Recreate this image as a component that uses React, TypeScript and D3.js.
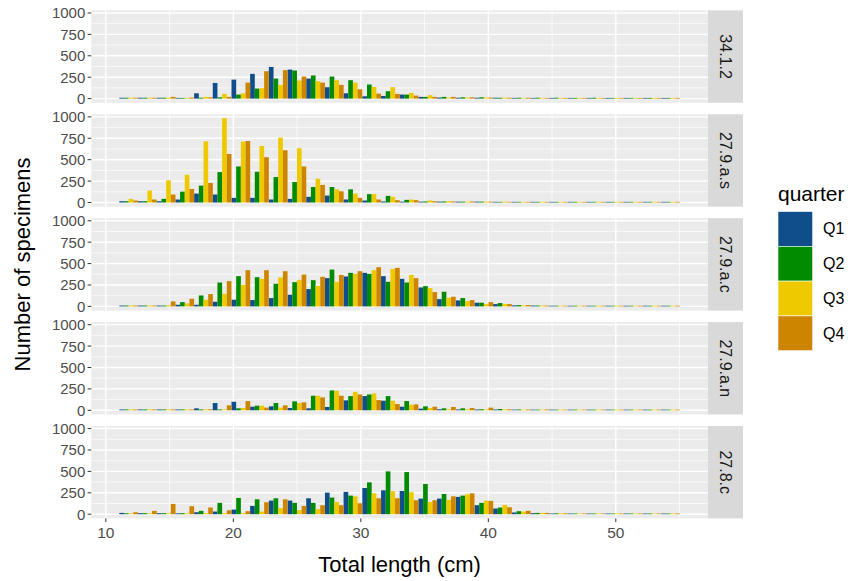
import React from 'react';
import * as d3 from 'd3';

// histogram bins (30 bins of the total length, cm)
const binMids = [11.79, 13.26, 14.73, 16.19, 17.66, 19.12, 20.59, 22.05, 23.52, 24.99,
  26.45, 27.92, 29.38, 30.85, 32.32, 33.78, 35.25, 36.71, 38.18, 39.65,
  41.11, 42.58, 44.04, 45.51, 46.98, 48.44, 49.91, 51.37, 52.84, 54.3];
const binWidth = 1.466;

const quarters = ['Q1', 'Q2', 'Q3', 'Q4'];
const quarterColors = ['#104E8B', '#008B00', '#EEC900', '#CD8500'];
const areas = ['34.1.2', '27.9.a.s', '27.9.a.c', '27.9.a.n', '27.8.c'];
const xTicks = [10, 20, 30, 40, 50];
const xMinor = [15, 25, 35, 45, 55];
const yTicks = [0, 250, 500, 750, 1000];
const yMinor = [125, 375, 625, 875];

// 34.1.2
const q1_3412 = [10, 10, 10, 8, 62, 183, 222, 289, 370, 339, 234, 133, 62, 27, 31, 47, 20, 12, 10, 10, 10, 8, 8, 8, 8, 8, 8, 8, 8, 8];
const q2_3412 = [10, 10, 10, 8, 10, 15, 47, 117, 234, 328, 270, 257, 215, 164, 86, 47, 20, 20, 15, 15, 10, 10, 10, 10, 8, 10, 8, 8, 8, 8];
const q3_3412 = [10, 10, 10, 8, 20, 55, 62, 121, 160, 211, 203, 215, 187, 137, 133, 66, 39, 12, 12, 12, 10, 8, 8, 8, 8, 8, 8, 8, 8, 8];
const q4_3412 = [10, 10, 20, 12, 15, 20, 187, 320, 332, 257, 187, 160, 109, 58, 55, 35, 20, 20, 15, 12, 10, 10, 8, 8, 8, 8, 8, 8, 8, 8];
// 27.9.a.s
const q1_279as = [15, 15, 15, 35, 104, 93, 54, 54, 35, 42, 66, 81, 35, 23, 12, 10, 10, 10, 10, 10, 8, 8, 8, 8, 8, 8, 8, 8, 8, 8];
const q2_279as = [15, 15, 42, 127, 197, 355, 421, 359, 297, 239, 181, 181, 154, 97, 77, 31, 12, 12, 10, 10, 8, 8, 8, 8, 8, 8, 8, 8, 8, 8];
const q3_279as = [42, 139, 259, 324, 714, 985, 710, 660, 757, 633, 278, 154, 104, 97, 66, 35, 23, 15, 10, 10, 10, 8, 8, 8, 8, 8, 8, 8, 8, 8];
const q4_279as = [23, 35, 93, 158, 228, 567, 718, 529, 610, 421, 205, 131, 54, 35, 27, 27, 15, 12, 12, 10, 8, 8, 8, 8, 8, 8, 8, 8, 8, 8];
// 27.9.a.c
const q1_279ac = [10, 10, 10, 19, 19, 54, 78, 74, 97, 136, 202, 330, 349, 392, 353, 322, 221, 85, 70, 43, 27, 12, 10, 8, 8, 8, 8, 8, 8, 8];
const q2_279ac = [10, 10, 10, 50, 128, 279, 353, 341, 264, 283, 306, 430, 392, 380, 287, 279, 237, 171, 97, 43, 39, 15, 10, 8, 8, 8, 8, 8, 8, 8];
const q3_279ac = [10, 10, 12, 35, 78, 147, 252, 322, 338, 310, 240, 287, 380, 423, 438, 368, 213, 101, 62, 27, 27, 12, 10, 8, 8, 8, 8, 8, 8, 8];
const q4_279ac = [10, 10, 58, 89, 144, 295, 423, 423, 411, 372, 345, 368, 411, 458, 450, 330, 167, 113, 74, 50, 27, 15, 10, 8, 8, 8, 8, 8, 8, 8];
// 27.9.a.n
const q1_279an = [10, 10, 10, 10, 23, 85, 100, 42, 46, 27, 23, 39, 116, 166, 112, 42, 19, 12, 10, 10, 10, 8, 8, 8, 8, 8, 8, 8, 8, 8];
const q2_279an = [10, 10, 10, 10, 10, 10, 23, 54, 85, 104, 170, 232, 166, 185, 166, 108, 46, 23, 23, 12, 15, 10, 8, 8, 8, 8, 8, 8, 8, 8];
const q3_279an = [10, 10, 10, 10, 10, 10, 27, 54, 31, 85, 170, 228, 216, 197, 112, 66, 27, 12, 12, 10, 10, 8, 8, 8, 8, 8, 8, 8, 8, 8];
const q4_279an = [10, 10, 10, 10, 12, 58, 108, 31, 58, 93, 151, 170, 185, 120, 73, 69, 42, 39, 27, 31, 12, 10, 10, 8, 8, 8, 8, 8, 8, 8];
// 27.8.c
const q1_278c = [15, 12, 12, 10, 23, 31, 54, 97, 159, 159, 186, 252, 260, 306, 279, 271, 182, 182, 202, 105, 66, 20, 12, 8, 8, 8, 8, 8, 8, 8];
const q2_278c = [10, 12, 12, 12, 39, 132, 190, 174, 186, 132, 132, 194, 217, 372, 500, 492, 353, 236, 217, 132, 78, 35, 15, 10, 8, 8, 8, 8, 8, 8];
const q3_278c = [10, 10, 10, 10, 12, 12, 12, 31, 70, 46, 58, 143, 209, 244, 268, 256, 143, 167, 233, 159, 109, 30, 15, 10, 8, 8, 8, 8, 8, 8];
const q4_278c = [23, 39, 120, 93, 78, 46, 35, 140, 174, 97, 105, 105, 128, 186, 186, 163, 163, 209, 244, 155, 81, 40, 15, 10, 8, 8, 8, 8, 8, 8];

const panelSeries = [
  [q1_3412, q2_3412, q3_3412, q4_3412],
  [q1_279as, q2_279as, q3_279as, q4_279as],
  [q1_279ac, q2_279ac, q3_279ac, q4_279ac],
  [q1_279an, q2_279an, q3_279an, q4_279an],
  [q1_278c, q2_278c, q3_278c, q4_278c],
];

const W = 858;
const H = 581;
const pLeft = 91.3;
const pRight = 708;
const pTop = 10.4;
const pH = 92.4;
const pStep = 103.9;
const stripW = 35;
const FONT = "'Liberation Sans', Arial, sans-serif";

export default function App() {
  const x = d3.scaleLinear().domain([8.86, 57.23]).range([pLeft, pRight]);
  const y = d3.scaleLinear().domain([-49, 1030]).range([pH, 0]);
  const bottom = pTop + 4 * pStep + pH;
  const midY = (pTop + bottom) / 2;

  return (
    <svg width={W} height={H} style={{ position: 'absolute', left: 0, top: 0, background: '#fff' }}
      fontFamily={FONT}>
      <rect x={0} y={0} width={W} height={H} fill="#ffffff" />
      {areas.map((area, p) => {
        const top = pTop + p * pStep;
        return (
          <g key={area} transform={`translate(0,${top})`}>
            <rect x={pLeft} y={0} width={pRight - pLeft} height={pH} fill="#EBEBEB" />
            {yMinor.map((t) => (
              <line key={'ym' + t} x1={pLeft} x2={pRight} y1={y(t)} y2={y(t)} stroke="#fff" strokeWidth={0.7} />
            ))}
            {xMinor.map((t) => (
              <line key={'xm' + t} x1={x(t)} x2={x(t)} y1={0} y2={pH} stroke="#fff" strokeWidth={0.7} />
            ))}
            {yTicks.map((t) => (
              <line key={'yM' + t} x1={pLeft} x2={pRight} y1={y(t)} y2={y(t)} stroke="#fff" strokeWidth={1.4} />
            ))}
            {xTicks.map((t) => (
              <line key={'xM' + t} x1={x(t)} x2={x(t)} y1={0} y2={pH} stroke="#fff" strokeWidth={1.4} />
            ))}
            {panelSeries[p].map((vals, q) =>
              vals.map((v, i) => {
                const x0 = binMids[i] - binWidth / 2 + (q * binWidth) / 4;
                const x1 = x0 + binWidth / 4;
                return (
                  <rect key={`${q}-${i}`} x={x(x0)} width={x(x1) - x(x0)} y={y(v)} height={y(0) - y(v)}
                    fill={quarterColors[q]} />
                );
              })
            )}
            {yTicks.map((t) => (
              <g key={'yt' + t}>
                <line x1={pLeft - 3.7} x2={pLeft} y1={y(t)} y2={y(t)} stroke="#333" strokeWidth={1} />
                <text x={pLeft - 6} y={y(t)} textAnchor="end" dominantBaseline="central" fontSize={15} fill="#4D4D4D">
                  {t}
                </text>
              </g>
            ))}
            <rect x={pRight} y={0} width={stripW} height={pH} fill="#D9D9D9" />
            <text transform={`translate(${pRight + stripW / 2},${pH / 2}) rotate(90)`} textAnchor="middle"
              dominantBaseline="central" fontSize={16} fill="#1A1A1A">
              {area}
            </text>
          </g>
        );
      })}
      {xTicks.map((t) => (
        <g key={'xt' + t}>
          <line x1={x(t)} x2={x(t)} y1={bottom} y2={bottom + 3.7} stroke="#333" strokeWidth={1} />
          <text x={x(t)} y={bottom + 14.5} textAnchor="middle" dominantBaseline="central" fontSize={15.5} fill="#4D4D4D">
            {t}
          </text>
        </g>
      ))}
      <text x={(pLeft + pRight) / 2} y={564} textAnchor="middle" dominantBaseline="central" fontSize={22} fill="#000">
        Total length (cm)
      </text>
      <text transform={`translate(22,${midY}) rotate(-90)`} textAnchor="middle" dominantBaseline="central"
        fontSize={22} fill="#000">
        Number of specimens
      </text>
      <text x={778} y={193} dominantBaseline="central" fontSize={21} fill="#000">quarter</text>
      {quarters.map((q, k) => (
        <g key={q}>
          <rect x={778} y={211.5 + k * 34.8} width={34.7} height={34.8} fill={quarterColors[k]} stroke="#fff" strokeWidth={0.6} />
          <text x={823} y={211.5 + k * 34.8 + 17.4} dominantBaseline="central" fontSize={16} fill="#000">{q}</text>
        </g>
      ))}
    </svg>
  );
}
